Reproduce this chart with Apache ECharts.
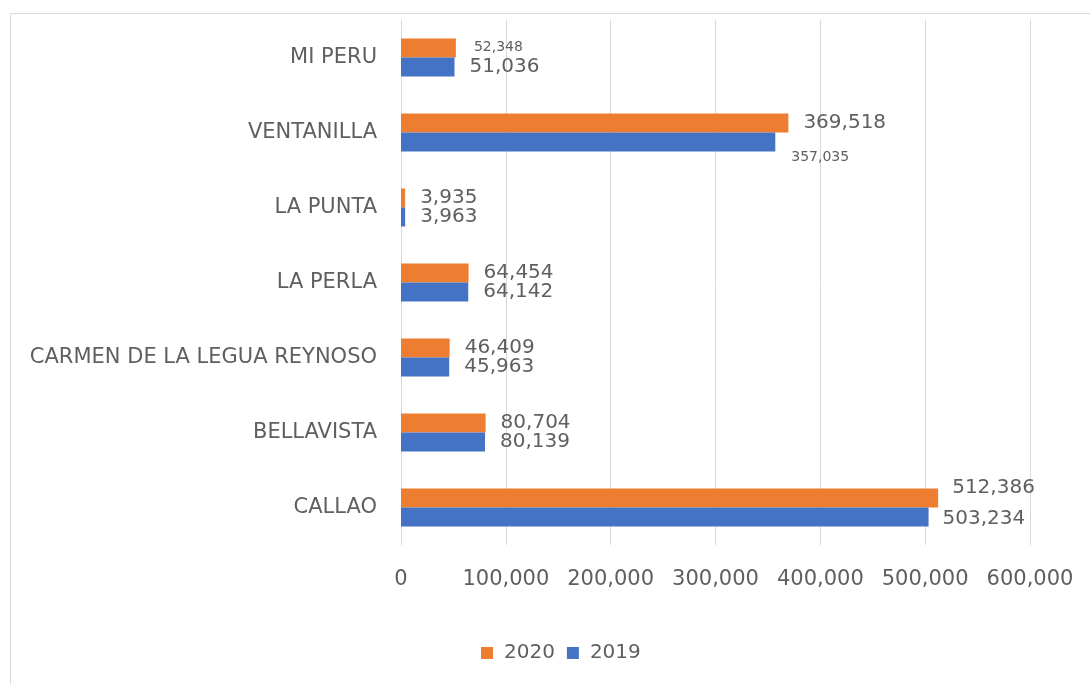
<!DOCTYPE html>
<html>
<head>
<meta charset="utf-8">
<script src="https://cdn.jsdelivr.net/npm/echarts@6/dist/echarts.min.js"></script>
<style>
  html, body { margin: 0; padding: 0; background: #fff; }
  #chart { width: 1090px; height: 684px; }
</style>
</head>
<body>
<div id="chart"></div>
<script>
// distritos, de abajo hacia arriba
var districts = ['CALLAO', 'BELLAVISTA', 'CARMEN DE LA LEGUA REYNOSO', 'LA PERLA', 'LA PUNTA', 'VENTANILLA', 'MI PERU'];
var values2020 = [512386, 80704, 46409, 64454, 3935, 369518, 52348];
var values2019 = [503234, 80139, 45963, 64142, 3963, 357035, 51036];
var xTicks = [0, 100000, 200000, 300000, 400000, 500000, 600000];

var fontName = 'DejaVu Sans';
var grey = '#5f5f5f';

var fmt = function (v) {
  return Number(v).toLocaleString('en-US');
};

// etiquetas: algunas tienen otro tamaño u otra posición en el original
var labelFor = function (series, idx) {
  var base = {show: true, position: 'right', distance: 5, color: grey, fontFamily: fontName, fontSize: 20,
    offset: [10, 0], formatter: function (p) { return fmt(p.value); }};
  if (series === '2020') {
    if (idx === 6) { base.fontSize = 14; base.offset = [13, -1]; }
    if (idx === 0) { base.offset = [9, -10]; }
  } else {
    if (idx === 5) { base.fontSize = 14; base.offset = [11, 15]; }
    if (idx === 0) { base.offset = [9, 2]; }
  }
  return base;
};

var mkData = function (arr, name) {
  return arr.map(function (v, i) {
    return {value: v, label: labelFor(name, i)};
  });
};

var chart = echarts.init(document.getElementById('chart'));

chart.setOption({
  animation: false,
  textStyle: {fontFamily: fontName},
  graphic: [
    {
      type: 'rect',
      shape: {x: 10.5, y: 13.5, width: 1100, height: 700},
      style: {fill: null, stroke: '#d9d9d9', lineWidth: 1},
      silent: true
    }
  ],
  legend: {
    data: ['2020', '2019'],
    top: 638,
    left: 476,
    itemWidth: 12,
    itemHeight: 12,
    itemGap: 12,
    icon: 'rect',
    textStyle: {color: grey, fontSize: 20, fontFamily: fontName, padding: [0, 0, 0, 6]}
  },
  grid: {
    left: 401,
    right: 60,
    top: 20,
    bottom: 139,
    containLabel: false
  },
  xAxis: {
    type: 'value',
    min: 0,
    max: 600000,
    interval: 100000,
    axisLine: {show: false},
    axisTick: {show: false},
    splitLine: {lineStyle: {color: '#d9d9d9', width: 1}},
    axisLabel: {
      color: grey,
      fontSize: 21,
      fontFamily: fontName,
      margin: 24,
      formatter: function (v) { return fmt(v); }
    }
  },
  yAxis: {
    type: 'category',
    data: districts,
    axisLine: {show: false},
    axisTick: {show: false},
    axisLabel: {color: grey, fontSize: 21, fontFamily: fontName, margin: 24}
  },
  series: [
    {
      name: '2020',
      type: 'bar',
      data: mkData(values2020, '2020'),
      barWidth: 19,
      barGap: '0%',
      itemStyle: {color: '#ED7D31'}
    },
    {
      name: '2019',
      type: 'bar',
      data: mkData(values2019, '2019'),
      barWidth: 19,
      barGap: '0%',
      itemStyle: {color: '#4472C4'}
    }
  ]
});
</script>
</body>
</html>
